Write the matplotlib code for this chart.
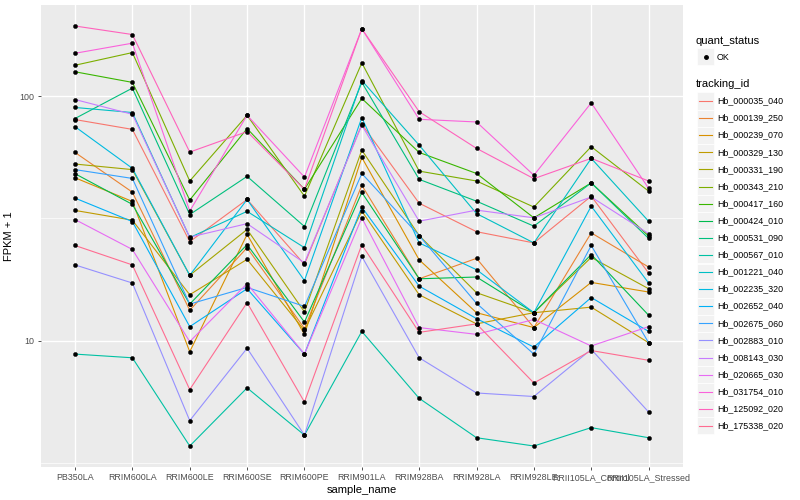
import numpy as np
import matplotlib.pyplot as plt
from matplotlib.patches import Rectangle
from matplotlib.lines import Line2D

plt.rcParams['font.family'] = ['Liberation Sans', 'DejaVu Sans']

# amostras (eixo x)
samples = ['PB350LA', 'RRIM600LA', 'RRIM600LE', 'RRIM600SE', 'RRIM600PE',
           'RRIM901LA', 'RRIM928BA', 'RRIM928LA', 'RRIM928LE',
           'RRII105LA_Control', 'RRII105LA_Stressed']

tracking_ids = ['Hb_000035_040', 'Hb_000139_250', 'Hb_000239_070', 'Hb_000329_130',
                'Hb_000331_190', 'Hb_000343_210', 'Hb_000417_160', 'Hb_000424_010',
                'Hb_000531_090', 'Hb_000567_010', 'Hb_001221_040', 'Hb_002235_320',
                'Hb_002652_040', 'Hb_002675_060', 'Hb_002883_010', 'Hb_008143_030',
                'Hb_020665_030', 'Hb_031754_010', 'Hb_125092_020', 'Hb_175338_020']

# cores padrao do ggplot (hue_pal, 20 niveis)
cores = ['#F8766D', '#EA8331', '#D89000', '#C09B00', '#A3A500', '#7CAE00', '#39B600',
         '#00BB4E', '#00BF7D', '#00C1A3', '#00BFC4', '#00BAE0', '#00B0F6', '#35A2FF',
         '#9590FF', '#C77CFF', '#E76BF3', '#FA62DB', '#FF62BC', '#FF6C91']

# FPKM + 1 por gene (uma lista por tracking_id, na ordem das amostras)
Hb_000035_040 = [80.3, 73.2, 25.4, 37.8, 20.5, 76.8, 36.5, 27.9, 25.1, 39.0, 18.9]
Hb_000139_250 = [58.9, 40.5, 13.3, 24.0, 11.2, 43.2, 17.9, 21.7, 11.3, 27.6, 20.0]
Hb_000239_070 = [46.4, 37.1, 9.0, 27.2, 10.6, 56.2, 21.4, 13.0, 11.3, 17.3, 15.8]
Hb_000329_130 = [34.1, 31.1, 15.4, 21.5, 11.0, 33.9, 15.4, 11.7, 13.0, 13.7, 9.8]
Hb_000331_190 = [52.8, 50.1, 18.5, 28.5, 13.1, 60.2, 26.9, 15.7, 13.0, 21.9, 16.3]
Hb_000343_210 = [134, 151, 45.0, 83.6, 39.0, 137, 49.4, 45.0, 35.2, 62.2, 40.9]
Hb_000417_160 = [126, 114, 37.6, 73.8, 41.6, 98, 58.9, 48.3, 31.8, 44.2, 26.8]
Hb_000424_010 = [48.2, 36.1, 14.1, 24.7, 11.9, 40.4, 17.9, 18.2, 13.0, 22.5, 12.7]
Hb_000531_090 = [81.1, 108, 32.8, 47.0, 29.3, 114, 45.7, 37.2, 29.4, 44.2, 26.2]
Hb_000567_010 = [8.8, 8.5, 3.7, 6.4, 4.1, 10.9, 5.8, 4.0, 3.7, 4.4, 4.0]
Hb_001221_040 = [90, 85.8, 26.4, 33.8, 24.0, 116, 63.1, 33.1, 25.1, 55.7, 30.8]
Hb_002235_320 = [75.1, 50.7, 18.5, 37.8, 17.6, 81.8, 25.1, 19.5, 13.0, 35.5, 17.2]
Hb_002652_040 = [38.3, 30.7, 11.4, 16.3, 8.8, 35.2, 16.7, 12.3, 9.4, 15.0, 10.9]
Hb_002675_060 = [50.1, 46.1, 14.1, 16.5, 13.8, 48.3, 26.9, 14.2, 8.8, 24.5, 9.8]
Hb_002883_010 = [20.4, 17.2, 4.7, 9.3, 4.1, 22.1, 8.5, 6.1, 5.9, 9.2, 5.1]
Hb_008143_030 = [97, 84.4, 26.5, 30.1, 20.8, 76.1, 30.8, 34.2, 31.8, 38.7, 27.4]
Hb_020665_030 = [31.3, 23.6, 9.9, 17.1, 8.8, 31.8, 11.3, 10.6, 12.2, 9.5, 11.4]
Hb_031754_010 = [150, 165, 33.9, 83.6, 46.7, 189, 80.5, 78.5, 47.5, 94, 42]
Hb_125092_020 = [194, 179, 59.1, 71.7, 41.6, 189, 86.5, 61.2, 46, 55.7, 45]
Hb_175338_020 = [24.5, 20.4, 6.3, 14.3, 5.6, 24.7, 10.8, 11.7, 6.7, 9.1, 8.3]

valores = [Hb_000035_040, Hb_000139_250, Hb_000239_070, Hb_000329_130, Hb_000331_190,
           Hb_000343_210, Hb_000417_160, Hb_000424_010, Hb_000531_090, Hb_000567_010,
           Hb_001221_040, Hb_002235_320, Hb_002652_040, Hb_002675_060, Hb_002883_010,
           Hb_008143_030, Hb_020665_030, Hb_031754_010, Hb_125092_020, Hb_175338_020]

W, H = 800, 500
fig = plt.figure(figsize=(8, 5), dpi=100)
# painel no estilo ggplot
ax = fig.add_axes([40.6 / W, 1 - 467 / H, (683 - 40.6) / W, (467 - 5) / H])
ax.set_facecolor('#EBEBEB')
for s in ax.spines.values():
    s.set_visible(False)

x = np.arange(len(samples))
for vals, cor in zip(valores, cores):
    ax.plot(x, vals, color=cor, lw=0.8, zorder=2)
for vals in valores:
    ax.plot(x, vals, 'o', color='black', ms=3.0, mec='black', mew=0.3, zorder=3)

ax.set_yscale('log')
ax.set_yticks([10, 100])
ax.set_yticklabels(['10', '100'])
ax.set_yticks([10 ** 0.5, 10 ** 1.5, 10 ** 2.5], minor=True)
ax.yaxis.set_minor_formatter(plt.NullFormatter())
ax.set_xticks(x)
ax.set_xticklabels(samples)

# limites com expansao de 5% (como no ggplot), depois dos ticks
todos = np.log10(np.concatenate([np.array(v, dtype=float) for v in valores]))
lo, hi = todos.min(), todos.max()
pad = 0.05 * (hi - lo)
ax.set_ylim(10 ** (lo - pad), 10 ** (hi + pad))
ax.set_xlim(-0.6, len(samples) - 1 + 0.6)

ax.grid(True, which='major', color='white', lw=1.0, zorder=0)
ax.grid(True, which='minor', axis='y', color='white', lw=0.5, zorder=0)
ax.set_axisbelow(True)
ax.tick_params(which='major', length=2.5, width=0.6, color='#333333',
               labelsize=6.4, labelcolor='#4D4D4D', pad=2)
ax.tick_params(which='minor', length=0)

ax.set_xlabel('sample_name', fontsize=8, labelpad=2)
ax.set_ylabel('FPKM + 1', fontsize=8, labelpad=4)

# legenda montada a mao (estilo ggplot)
def fx(px):
    return px / W

def fy(py):
    return 1 - py / H

fig.text(fx(696), fy(41), 'quant_status', fontsize=8, va='center', ha='left')
fig.add_artist(Rectangle((fx(697), fy(65)), 17 / W, 17 / H, transform=fig.transFigure,
                         facecolor='#F2F2F2', edgecolor='white', lw=0.5))
fig.add_artist(Line2D([fx(705.5)], [fy(56.5)], marker='o', color='black', ms=2.5,
                      transform=fig.transFigure))
fig.text(fx(717), fy(57), 'OK', fontsize=6.4, va='center', ha='left')

fig.text(fx(696), fy(84), 'tracking_id', fontsize=8, va='center', ha='left')
passo = 17.1
for i, (nome, cor) in enumerate(zip(tracking_ids, cores)):
    yc = 101 + i * passo
    fig.add_artist(Rectangle((fx(697), fy(yc + 8.5)), 17 / W, 17 / H,
                             transform=fig.transFigure, facecolor='#F2F2F2',
                             edgecolor='white', lw=0.5))
    fig.add_artist(Line2D([fx(699), fx(712)], [fy(yc), fy(yc)], color=cor, lw=0.8,
                          transform=fig.transFigure))
    fig.text(fx(717), fy(yc), nome, fontsize=6.4, va='center', ha='left')

fig.savefig('out.png', dpi=100)
